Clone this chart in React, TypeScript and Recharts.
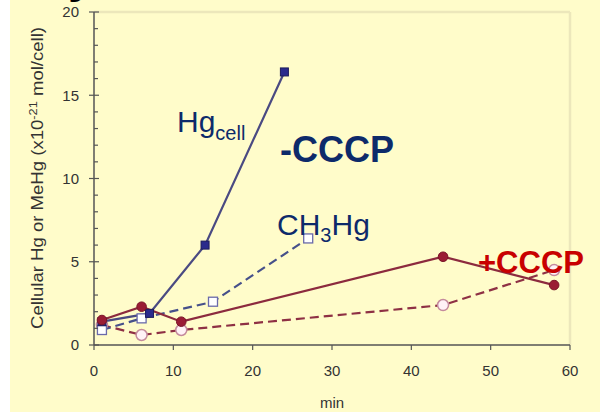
import React from 'react';
import { LineChart, Line, XAxis, YAxis, ReferenceLine } from 'recharts';

// times (min) and cellular amounts (x10^-21 mol/cell)
const hgMinusT = [1, 7, 14, 24];
const hgMinusV = [1.4, 1.9, 6.0, 16.4];
const meHgMinusT = [1, 6, 15, 27];
const meHgMinusV = [0.9, 1.6, 2.6, 6.4];
const hgPlusT = [1, 6, 11, 44, 58];
const hgPlusV = [1.5, 2.3, 1.4, 5.3, 3.6];
const meHgPlusT = [1, 6, 11, 44, 58];
const meHgPlusV = [1.2, 0.6, 0.9, 2.4, 4.5];

const xTicks = [0, 10, 20, 30, 40, 50, 60];
const yTicks = [0, 1, 2, 3, 4, 5, 6, 7, 8, 9, 10, 11, 12, 13, 14, 15, 16, 17, 18, 19, 20];

const toRows = (t: number[], v: number[]) => t.map((x, i) => ({ t: x, v: v[i] }));

const FONT = '"Liberation Sans", Arial, sans-serif';
const NAVY = '#0d2a6a';

const YTick = (props: any) => {
  const { x, y, payload } = props;
  const major = payload.value % 5 === 0;
  return (
    <g>
      <line x1={major ? x - 5 : x} x2={x + (major ? 5 : 4)} y1={y} y2={y} stroke="#555" strokeWidth={1.2} />
      {major && (
        <text x={x - 15} y={y} dy="0.36em" textAnchor="end" fontSize={15} fill="#333" fontFamily={FONT}>
          {payload.value}
        </text>
      )}
    </g>
  );
};

const FilledSquare = (props: any) => {
  const { cx, cy } = props;
  if (cx == null || cy == null) return null;
  return <rect x={cx - 4} y={cy - 4} width={8} height={8} fill="#2a2a8c" stroke="#1c1c5c" strokeWidth={1} />;
};

const OpenSquare = (props: any) => {
  const { cx, cy } = props;
  if (cx == null || cy == null) return null;
  return <rect x={cx - 4.5} y={cy - 4.5} width={9} height={9} fill="#ffffff" stroke="#6a6aaa" strokeWidth={1.3} />;
};

const FilledCircle = (props: any) => {
  const { cx, cy } = props;
  if (cx == null || cy == null) return null;
  return <circle cx={cx} cy={cy} r={4.8} fill="#9a1c34" stroke="#7a1428" strokeWidth={1} />;
};

const OpenCircle = (props: any) => {
  const { cx, cy } = props;
  if (cx == null || cy == null) return null;
  return <circle cx={cx} cy={cy} r={5.5} fill="#fff2f6" stroke="#c48a9c" strokeWidth={1.5} />;
};

export default function App() {
  return (
    <div style={{ position: 'absolute', left: 0, top: 0, width: 600, height: 412, background: '#fff', overflow: 'hidden' }}>
      <div style={{ position: 'absolute', left: 10, top: 0, width: 590, height: 412, background: '#fffcca' }} />
      <div style={{ position: 'absolute', left: 0, top: 0 }}>
        <LineChart width={600} height={412} margin={{ top: 12, right: 30, bottom: 37, left: 34 }}>
          <XAxis
            type="number"
            dataKey="t"
            domain={[0, 60]}
            ticks={xTicks}
            interval={0}
            tickSize={5}
            tickMargin={15}
            height={30}
            axisLine={{ stroke: '#555', strokeWidth: 1.5 }}
            tickLine={{ stroke: '#555', strokeWidth: 1.2 }}
            tick={{ fill: '#333', fontSize: 15, fontFamily: FONT }}
          />
          <YAxis
            type="number"
            domain={[0, 20]}
            ticks={yTicks}
            interval={0}
            width={60}
            tickSize={0}
            tickMargin={0}
            tickLine={false}
            axisLine={{ stroke: '#555', strokeWidth: 1.5 }}
            tick={<YTick />}
          />
          <ReferenceLine y={20} stroke="#ece7bb" strokeWidth={2.5} ifOverflow="visible" />
          <ReferenceLine x={60} stroke="#ece7bb" strokeWidth={2.5} ifOverflow="visible" />
          <Line
            data={toRows(meHgPlusT, meHgPlusV)}
            dataKey="v"
            stroke="#8e3044"
            strokeWidth={2.2}
            strokeDasharray="9 5"
            dot={<OpenCircle />}
            isAnimationActive={false}
          />
          <Line
            data={toRows(meHgMinusT, meHgMinusV)}
            dataKey="v"
            stroke="#46508a"
            strokeWidth={2.2}
            strokeDasharray="9 5"
            dot={<OpenSquare />}
            isAnimationActive={false}
          />
          <Line
            data={toRows(hgMinusT, hgMinusV)}
            dataKey="v"
            stroke="#4a4a82"
            strokeWidth={2.2}
            dot={<FilledSquare />}
            isAnimationActive={false}
          />
          <Line
            data={toRows(hgPlusT, hgPlusV)}
            dataKey="v"
            stroke="#8c2a3e"
            strokeWidth={2.2}
            dot={<FilledCircle />}
            isAnimationActive={false}
          />
        </LineChart>
      </div>
      <svg width={600} height={412} style={{ position: 'absolute', left: 0, top: 0, pointerEvents: 'none' }} fontFamily={FONT}>
        <text x={68} y={-8} fontSize={48} fontWeight="bold" fill="#000">y</text>
        <text x={350} y={-11} fontSize={48} fontWeight="bold" fill="#000">p</text>
        <text
          transform="translate(43,178) rotate(-90)"
          textAnchor="middle"
          fontSize={16}
          fill="#333"
          textLength={302}
          lengthAdjust="spacingAndGlyphs"
        >
          Cellular Hg or MeHg (x10<tspan dy={-6} fontSize={11}>-21</tspan>
          <tspan dy={6}> mol/cell)</tspan>
        </text>
        <text x={332} y={408} textAnchor="middle" fontSize={15} fill="#333">min</text>
        <text x={177} y={132} fontSize={30} fill={NAVY}>
          Hg<tspan fontSize={20} dy={8}>cell</tspan>
        </text>
        <text x={280} y={162} fontSize={36} fontWeight="bold" fill={NAVY}>-CCCP</text>
        <text x={277} y={235} fontSize={30} fill={NAVY}>
          CH<tspan fontSize={20} dy={7}>3</tspan>
          <tspan dy={-7}>Hg</tspan>
        </text>
        <text x={478} y={273} fontSize={31} fontWeight="bold" fill="#c80000">+CCCP</text>
      </svg>
    </div>
  );
}
